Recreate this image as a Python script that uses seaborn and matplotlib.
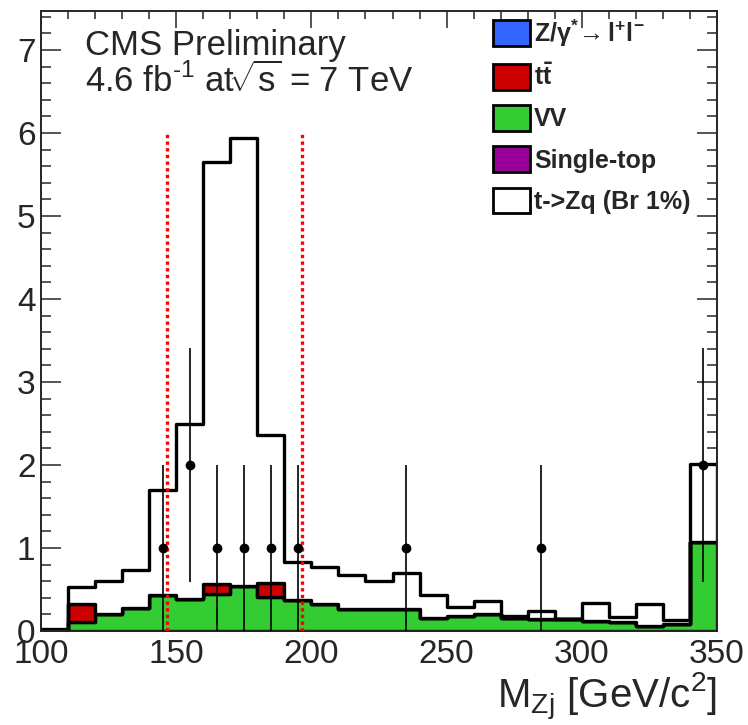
import numpy as np
import pandas as pd
import seaborn as sns
import matplotlib.pyplot as plt
from matplotlib.patches import Patch
from matplotlib.ticker import MultipleLocator

# Bin edges and centres of M_Zj (GeV/c^2), 10 GeV bins from 100 to 350
bin_edges = [100, 110, 120, 130, 140, 150, 160, 170, 180, 190, 200, 210, 220,
             230, 240, 250, 260, 270, 280, 290, 300, 310, 320, 330, 340, 350]
mass = [105, 115, 125, 135, 145, 155, 165, 175, 185, 195, 205, 215, 225,
        235, 245, 255, 265, 275, 285, 295, 305, 315, 325, 335, 345]

# Stacked MC yields per bin
vv = [0.00, 0.11, 0.21, 0.28, 0.43, 0.39, 0.45, 0.54, 0.41, 0.37, 0.33, 0.27, 0.26,
      0.26, 0.16, 0.18, 0.20, 0.16, 0.14, 0.14, 0.12, 0.11, 0.06, 0.08, 1.07]
ttbar = [0.00, 0.21, 0.00, 0.00, 0.00, 0.00, 0.12, 0.00, 0.17, 0.00, 0.00, 0.00, 0.00,
         0.00, 0.00, 0.00, 0.00, 0.00, 0.00, 0.00, 0.00, 0.00, 0.00, 0.00, 0.00]
signal = [0.02, 0.21, 0.39, 0.46, 1.27, 2.10, 5.08, 5.40, 1.78, 0.46, 0.44, 0.40, 0.34,
          0.44, 0.27, 0.11, 0.16, 0.02, 0.10, 0.01, 0.22, 0.06, 0.26, 0.05, 0.94]

# Observed data
obs_x = [145, 155, 165, 175, 185, 195, 235, 285, 345]
obs_n = [1, 2, 1, 1, 1, 1, 1, 1, 2]
obs_err = [1.0, 1.41, 1.0, 1.0, 1.0, 1.0, 1.0, 1.0, 1.41]

# Mass window cut
window = [146.5, 196.5]

names = ["t->Zq (Br 1%)", "tt", "VV"]
colors = {"t->Zq (Br 1%)": "white", "tt": "#cc0000", "VV": "#33cc33"}

df = pd.concat([
    pd.DataFrame({"mass": mass, "weight": signal, "process": names[0]}),
    pd.DataFrame({"mass": mass, "weight": ttbar, "process": names[1]}),
    pd.DataFrame({"mass": mass, "weight": vv, "process": names[2]}),
])

sns.set_style("ticks")
plt.rcParams["font.family"] = ["Liberation Sans", "DejaVu Sans"]
plt.rcParams["mathtext.fontset"] = "custom"
plt.rcParams["mathtext.rm"] = "Liberation Sans"
plt.rcParams["mathtext.it"] = "Liberation Sans:italic"
plt.rcParams["mathtext.bf"] = "Liberation Sans:bold"
plt.rcParams["mathtext.default"] = "regular"

fig = plt.figure(figsize=(7.48, 7.25), dpi=100)
ax = fig.add_axes([41 / 748, 94 / 725, 676 / 748, 620 / 725])

sns.histplot(data=df, x="mass", weights="weight", hue="process", hue_order=names,
             multiple="stack", bins=bin_edges, element="step", fill=True,
             palette=colors, alpha=1, edgecolor="black", linewidth=2.4,
             legend=False, ax=ax)

ax.vlines(window, 0, 6, colors="red", linestyles=(0, (1, 1)), linewidth=2.4, zorder=4)

ax.errorbar(obs_x, obs_n, yerr=obs_err, fmt="o", color="black", ms=6,
            elinewidth=1.2, capsize=0, zorder=5)

ax.set_xlim(100, 350)
ax.set_ylim(0, 7.47)
ax.xaxis.set_major_locator(MultipleLocator(50))
ax.xaxis.set_minor_locator(MultipleLocator(10))
ax.yaxis.set_major_locator(MultipleLocator(1))
ax.yaxis.set_minor_locator(MultipleLocator(0.2))
ax.tick_params(which="both", direction="in", top=True, right=True, width=1.1,
               labelsize=24)
ax.tick_params(axis="x", which="major", length=12.5, pad=6)
ax.tick_params(axis="x", which="minor", length=6)
ax.tick_params(axis="y", which="major", length=14.4, pad=4)
ax.tick_params(axis="y", which="minor", length=7.2)
for s in ax.spines.values():
    s.set_linewidth(1.4)

ax.set_ylabel("")
ax.set_xlabel(r"M$_{\mathrm{Zj}}$ [GeV/c$^{2}$]", fontsize=29, ha="right", va="top")
ax.xaxis.set_label_coords(1.0, -0.064)

ax.text(0.065, 0.929, "CMS Preliminary", transform=ax.transAxes, fontsize=25,
        va="baseline")
ax.text(0.065, 0.869, r"4.6 fb$^{\text{-}1}$ at$\!\sqrt{s}$ = 7 TeV",
        transform=ax.transAxes, fontsize=25, va="baseline")

handles = [
    Patch(facecolor="#3366ff", edgecolor="black", linewidth=2),
    Patch(facecolor="#cc0000", edgecolor="black", linewidth=2),
    Patch(facecolor="#33cc33", edgecolor="black", linewidth=2),
    Patch(facecolor="#990099", edgecolor="black", linewidth=2),
    Patch(facecolor="white", edgecolor="black", linewidth=2),
]
labels = [r"$\mathbf{Z/\gamma^{*}\!\rightarrow l^{+}l^{-}}$", r"$\mathbf{t\bar{t}}$",
          "VV", "Single-top", "t->Zq (Br 1%)"]
ax.legend(handles, labels, loc="upper left", bbox_to_anchor=(0.669, 0.99),
          frameon=False, prop={"weight": "bold", "size": 18}, handlelength=1.48,
          handleheight=1.2, labelspacing=0.6, handletextpad=0.15, borderpad=0,
          borderaxespad=0)

fig.savefig("out.png", dpi=100)
